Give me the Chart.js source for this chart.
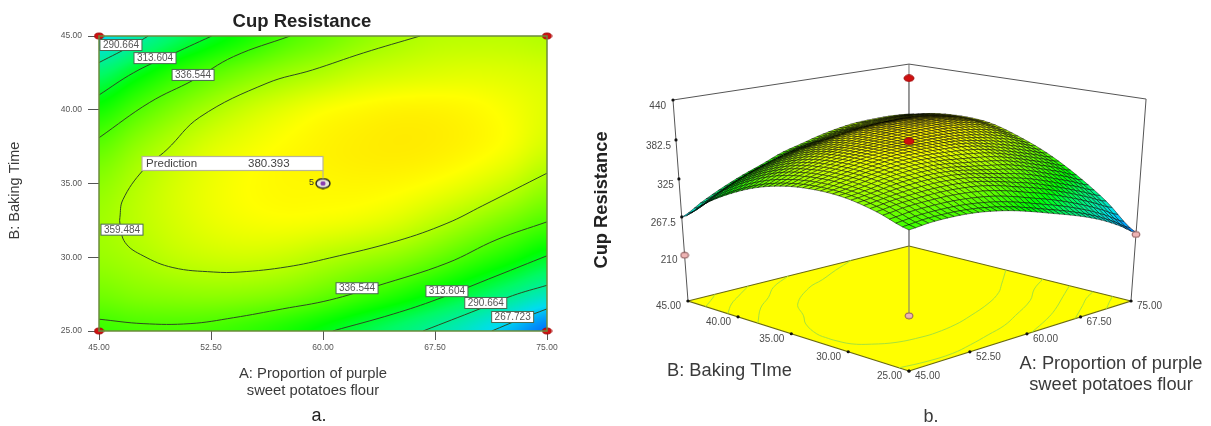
<!DOCTYPE html>
<html>
<head>
<meta charset="utf-8">
<title>Cup Resistance</title>
<script src="https://cdn.jsdelivr.net/npm/chart.js@4"></script>
<style>
  html, body { margin: 0; padding: 0; background: #fff; }
  body { position: relative; width: 1211px; height: 426px; overflow: hidden; }
  canvas { position: absolute; top: 0; }
  #contourChart { left: 0; }
  #surfaceChart { left: 580px; }
</style>
</head>
<body>
<canvas id="surfaceChart" width="631" height="426"></canvas>
<canvas id="contourChart" width="604" height="426"></canvas>
<script>
// values
const axisA = [45, 47.5, 50, 52.5, 55, 57.5, 60, 62.5, 65, 67.5, 70, 72.5, 75];
const axisB = [45, 42.5, 40, 37.5, 35, 32.5, 30, 27.5, 25];
const zTable = [
  [267, 284, 299, 312, 323, 335, 343, 351, 357, 361, 362, 362, 360],
  [298, 313, 327, 338, 347, 354, 359.5, 365, 368, 370, 371, 370, 368],
  [322, 336, 348, 358, 366, 372, 377, 380, 382, 382, 380, 376, 371],
  [340, 352, 362, 370, 375, 379, 382, 384, 385, 384, 381, 376, 368],
  [351, 360, 368, 374, 378, 380, 380.4, 381, 380, 377, 372, 365, 355],
  [355.5, 362, 368, 373, 376, 377, 376, 374, 370, 363, 355, 346, 337],
  [354, 358, 363, 366, 367, 365, 360.5, 356, 351, 343, 333, 323, 312],
  [345, 349, 351, 352, 351, 348, 342, 334, 326, 316, 305, 293, 281],
  [331, 334, 334.5, 333, 329, 323, 315, 306, 297, 287, 275, 260, 243]
];

const contour359 = [[66.5,45],[62.7,43.85],[59.3,42.7],[56.25,41.8],[51.75,39.5],[49.55,37.3],[47.95,35.9],[46.6,33.9],[46.4,32.7],[46.4,32.3],[46.75,31],[47.95,30.1],[49.95,29.3],[52.65,29],[54.45,29],[57.6,29.35],[60.45,29.95],[64.95,31.1],[68.3,32.3],[70.7,33.5],[75,35.7]];
const contour336Top = [[57.8,45],[54,43.6],[51.3,42],[48.4,40.5],[45,38.1]];
const contour336Low = [[45,25.8],[47.95,25.5],[51.1,25.5],[54,25.9],[57.3,26.5],[60.45,27.1],[63.6,28.05],[68.3,29.6],[71.65,31.2],[75,32.4]];
const contour313Top = [[52.55,45],[49.55,43.6],[47.3,42.5],[45,41]];
const contour313Low = [[60.65,25],[64.7,26.15],[67.65,27.15],[71.65,28.75],[75,30.1]];
const contour290Top = [[48.3,45],[47.3,44.4],[45,43.2]];
const contour290Low = [[66.7,25],[70.5,26.5],[72.7,27.4],[75,28.1]];
const contour267 = [[71.3,25],[73.2,25.8],[75,26.5]];
const contours = [contour359, contour336Top, contour336Low, contour313Top, contour313Low, contour290Top, contour290Low, contour267];

const contourLabels = ['290.664', '313.604', '336.544', '359.484', '336.544', '313.604', '290.664', '267.723'];
const contourLabelA = [46.47, 48.75, 51.3, 46.54, 62.28, 68.3, 70.9, 72.7];
const contourLabelB = [44.39, 43.5, 42.36, 31.87, 27.9, 27.7, 26.9, 25.95];

const cornerA = [45, 75, 45, 75];
const cornerB = [45, 45, 25, 25];
const predictionA = 60, predictionB = 35;
const predictionValue = '380.393';

const zTicks = [440, 382.5, 325, 267.5, 210];
const aTicks = [45, 52.5, 60, 67.5, 75];
const bTicks = [45, 40, 35, 30, 25];
const zFloor = 135;

// red points above the surface, pink ones below it
const redA = [60, 60], redB = [35, 35], redZ = [470, 380];
const pinkA = [45, 75, 60], pinkB = [45, 25, 35], pinkZ = [208, 240, 111];

const FONT = '"Liberation Sans", Arial, sans-serif';
const TXT = '#3a3a3a';

// colour ramp of the response, value -> rgb
const rampZ = [240, 268, 300, 318, 378, 470];
const rampC = [[0, 100, 255], [0, 220, 240], [0, 250, 100], [0, 255, 0], [255, 255, 0], [255, 0, 0]];
function rampColor(z) {
  if (z <= rampZ[0]) return rampC[0];
  for (let i = 1; i < rampZ.length; i++) {
    if (z <= rampZ[i]) {
      const t = (z - rampZ[i - 1]) / (rampZ[i] - rampZ[i - 1]);
      return [0, 1, 2].map(k => rampC[i - 1][k] + (rampC[i][k] - rampC[i - 1][k]) * t);
    }
  }
  return rampC[rampC.length - 1];
}

// smooth reading of the table, only used to paint it finer than its cells
function cr(p0, p1, p2, p3, t) {
  return 0.5 * (2 * p1 + (p2 - p0) * t + (2 * p0 - 5 * p1 + 4 * p2 - p3) * t * t + (3 * p1 - p0 - 3 * p2 + p3) * t * t * t);
}
function zAt(a, b) {
  const fx = (a - 45) / 2.5, fy = (45 - b) / 2.5;
  const ix = Math.min(Math.floor(fx), axisA.length - 2), iy = Math.min(Math.floor(fy), axisB.length - 2);
  const row = r => {
    const R = zTable[Math.max(0, Math.min(axisB.length - 1, r))];
    const g = c => R[Math.max(0, Math.min(axisA.length - 1, c))];
    return cr(g(ix - 1), g(ix), g(ix + 1), g(ix + 2), fx - ix);
  };
  return cr(row(iy - 1), row(iy), row(iy + 1), row(iy + 2), fy - iy);
}

function ellipseMarker(w, h, fill, stroke) {
  const c = document.createElement('canvas');
  c.width = w + 2; c.height = h + 2;
  const g = c.getContext('2d');
  g.beginPath();
  g.ellipse(c.width / 2, c.height / 2, w / 2, h / 2, 0, 0, Math.PI * 2);
  g.fillStyle = fill; g.fill();
  g.strokeStyle = stroke; g.lineWidth = 1; g.stroke();
  return c;
}
function targetMarker() {
  const c = document.createElement('canvas');
  c.width = 16; c.height = 12;
  const g = c.getContext('2d');
  g.beginPath(); g.ellipse(8, 6, 7, 4.7, 0, 0, Math.PI * 2);
  g.fillStyle = '#e8e8d8'; g.fill();
  g.strokeStyle = '#222'; g.lineWidth = 1.4; g.stroke();
  g.beginPath(); g.ellipse(8, 6, 2.6, 2.2, 0, 0, Math.PI * 2);
  g.fillStyle = '#8a3fb0'; g.fill();
  return c;
}
function putText(g, str, x, y, font, align, color) {
  g.font = font;
  g.textAlign = align || 'center';
  g.textBaseline = 'middle';
  g.fillStyle = color || TXT;
  g.fillText(str, x, y);
}

// ---------- a. contour plot ----------
const heatPlugin = {
  id: 'heat',
  beforeDatasetsDraw(chart) {
    const { ctx, chartArea: ca, scales } = chart;
    const w = Math.round(ca.right - ca.left), h = Math.round(ca.bottom - ca.top);
    const off = document.createElement('canvas');
    off.width = w; off.height = h;
    const og = off.getContext('2d');
    const img = og.createImageData(w, h);
    for (let y = 0; y < h; y++) {
      const b = scales.y.getValueForPixel(ca.top + y + 0.5);
      for (let x = 0; x < w; x++) {
        const a = scales.x.getValueForPixel(ca.left + x + 0.5);
        const c = rampColor(zAt(a, b));
        const p = (y * w + x) * 4;
        img.data[p] = c[0]; img.data[p + 1] = c[1]; img.data[p + 2] = c[2]; img.data[p + 3] = 255;
      }
    }
    og.putImageData(img, 0, 0);
    ctx.drawImage(off, ca.left, ca.top);
  },
  afterDatasetsDraw(chart) {
    const { ctx, chartArea: ca, scales } = chart;
    ctx.save();
    // plot frame
    ctx.strokeStyle = '#6b8a3c';
    ctx.lineWidth = 1.5;
    ctx.strokeRect(ca.left, ca.top, ca.right - ca.left, ca.bottom - ca.top);
    // contour labels
    contourLabels.forEach((txt, i) => {
      const x = scales.x.getPixelForValue(contourLabelA[i]);
      const y = scales.y.getPixelForValue(contourLabelB[i]);
      ctx.fillStyle = '#fff';
      ctx.fillRect(x - 21, y - 5.5, 42, 11);
      ctx.strokeStyle = '#4a6a50';
      ctx.lineWidth = 1;
      ctx.strokeRect(x - 21, y - 5.5, 42, 11);
      putText(ctx, txt, x, y + 0.5, '10px ' + FONT, 'center', '#555');
    });
    // prediction flag
    const px = scales.x.getPixelForValue(predictionA);
    const py = scales.y.getPixelForValue(predictionB);
    ctx.strokeStyle = '#b9b49a';
    ctx.lineWidth = 1.2;
    ctx.beginPath(); ctx.moveTo(px, py - 13); ctx.lineTo(px, py - 5); ctx.stroke();
    ctx.fillStyle = '#fff';
    ctx.fillRect(px - 181, py - 27, 181, 14);
    ctx.strokeRect(px - 181, py - 27, 181, 14);
    putText(ctx, 'Prediction', px - 177, py - 19.5, '11.5px ' + FONT, 'left', '#444');
    putText(ctx, predictionValue, px - 75, py - 19.5, '11.5px ' + FONT, 'left', '#444');
    putText(ctx, '5', px - 9, py - 0.5, '9px ' + FONT, 'right', '#333');
    // titles sit off the plot centre in the picture, so they are placed here
    putText(ctx, 'Cup Resistance', 302, 22, 'bold 18.5px ' + FONT, 'center', '#222');
    putText(ctx, 'A: Proportion of purple', 313, 374, '14.8px ' + FONT, 'center', TXT);
    putText(ctx, 'sweet potatoes flour', 313, 391, '14.8px ' + FONT, 'center', TXT);
    putText(ctx, 'a.', 319, 416, '18px ' + FONT, 'center', '#222');
    ctx.save();
    ctx.translate(15, 190.5);
    ctx.rotate(-Math.PI / 2);
    putText(ctx, 'B: Baking Time', 0, 0, '14.5px ' + FONT, 'center', TXT);
    ctx.restore();
    ctx.restore();
  }
};

const contourSets = [];
contourSets.push({
  data: [{ x: predictionA, y: predictionB }],
  pointStyle: targetMarker(), pointRadius: 7, clip: false
});
contourSets.push({
  data: cornerA.map((a, i) => ({ x: a, y: cornerB[i] })),
  pointStyle: ellipseMarker(9, 6, '#d01010', '#a00808'), pointRadius: 5, clip: false
});
contours.forEach(line => {
  contourSets.push({
    data: line.map(p => ({ x: p[0], y: p[1] })),
    showLine: true, borderColor: '#2e4a22', borderWidth: 1, pointRadius: 0, tension: 0.4
  });
});

new Chart(document.getElementById('contourChart').getContext('2d'), {
  type: 'scatter',
  data: { datasets: contourSets },
  options: {
    responsive: false,
    animation: false,
    layout: { autoPadding: false, padding: { left: 0, right: 57, top: 36, bottom: 0 } },
    plugins: {
      legend: { display: false },
      tooltip: { enabled: false },
      title: { display: false }
    },
    scales: {
      x: {
        type: 'linear', min: 45, max: 75,
        afterFit: s => { s.height = 95; },
        grid: { drawOnChartArea: false, color: '#555', tickLength: 9 },
        border: { display: false },
        ticks: {
          stepSize: 7.5, maxRotation: 0, padding: 3, color: '#555',
          font: { family: FONT, size: 8.5 },
          callback: v => v.toFixed(2)
        }
      },
      y: {
        type: 'linear', min: 25, max: 45,
        afterFit: s => { s.width = 99; },
        grid: { drawOnChartArea: false, color: '#555', tickLength: 11 },
        border: { display: false },
        ticks: {
          stepSize: 5, padding: 6, color: '#555',
          font: { family: FONT, size: 8.5 },
          callback: v => v.toFixed(2)
        }
      }
    }
  },
  plugins: [heatPlugin]
});

// ---------- b. response surface ----------
// view: where the floor corners and the vertical vanishing point land in the page
const view = { x00: 909, y00: 371, x10: 1131, y10: 301, x11: 909, y11: 246, x01: 688, y01: 301, vpx: 909.5, vpy: 3270, topY: 100 };
const H = (() => {
  const v = view;
  const dx1 = v.x10 - v.x11, dx2 = v.x01 - v.x11, sx = v.x00 - v.x10 + v.x11 - v.x01;
  const dy1 = v.y10 - v.y11, dy2 = v.y01 - v.y11, sy = v.y00 - v.y10 + v.y11 - v.y01;
  const den = dx1 * dy2 - dx2 * dy1;
  const g = (sx * dy2 - dx2 * sy) / den, h = (dx1 * sy - sx * dy1) / den;
  const m = {
    a: v.x10 - v.x00 + g * v.x10, b: v.x01 - v.x00 + h * v.x01, c: v.x00,
    d: v.y10 - v.y00 + g * v.y10, e: v.y01 - v.y00 + h * v.y01, f: v.y00, g, h
  };
  const wL = h + 1;
  m.s = -(v.y01 - v.topY) * wL / (v.vpy - v.topY);
  return m;
})();
function project(a, b, z) {
  const u = (a - 45) / 30, v = (b - 25) / 20;
  const t = (z - zFloor) / (440 - zFloor) * H.s;
  const w = H.g * u + H.h * v + 1 + t;
  return {
    x: (H.a * u + H.b * v + H.c + t * view.vpx) / w,
    y: (H.d * u + H.e * v + H.f + t * view.vpy) / w
  };
}

const MESH = 40;
const surfacePlugin = {
  id: 'surface',
  beforeDatasetDraw(chart, args) {
    if (chart.data.datasets[args.index].label !== 'surface') return;
    const { ctx, scales } = chart;
    const pos = (a, b, z) => {
      const p = project(a, b, z);
      return [scales.x.getPixelForValue(p.x), scales.y.getPixelForValue(p.y)];
    };
    ctx.save();
    ctx.lineWidth = 0.6;
    ctx.strokeStyle = 'rgba(0,0,0,0.8)';
    // back corner (75, 45) first, front corner (45, 25) last
    for (let i = MESH - 1; i >= 0; i--) {
      for (let j = MESH - 1; j >= 0; j--) {
        const a0 = 45 + 30 * i / MESH, a1 = 45 + 30 * (i + 1) / MESH;
        const b0 = 25 + 20 * j / MESH, b1 = 25 + 20 * (j + 1) / MESH;
        const z00 = zAt(a0, b0), z10 = zAt(a1, b0), z11 = zAt(a1, b1), z01 = zAt(a0, b1);
        const c = rampColor((z00 + z10 + z11 + z01) / 4);
        const p = [pos(a0, b0, z00), pos(a1, b0, z10), pos(a1, b1, z11), pos(a0, b1, z01)];
        ctx.beginPath();
        ctx.moveTo(p[0][0], p[0][1]);
        for (let k = 1; k < 4; k++) ctx.lineTo(p[k][0], p[k][1]);
        ctx.closePath();
        ctx.fillStyle = 'rgb(' + c.map(Math.round).join(',') + ')';
        ctx.fill();
        ctx.stroke();
      }
    }
    ctx.restore();
  },
  afterDatasetsDraw(chart) {
    const ctx = chart.ctx;
    const sx = chart.scales.x, sy = chart.scales.y;
    const tick = (s, x, y, align) => putText(ctx, s, sx.getPixelForValue(x), sy.getPixelForValue(y), '10px ' + FONT, align, '#4a4a4a');
    ctx.save();
    zTicks.forEach((z, i) => {
      const p = project(45, 45, z);
      tick(String(z), p.x - [7, 5, 5, 6, 7][i], p.y + 6, 'right');
    });
    bTicks.forEach(b => {
      const p = project(45, b, zFloor);
      tick(b.toFixed(2), p.x - 7, p.y + 5.5, 'right');
    });
    aTicks.forEach(a => {
      const p = project(a, 25, zFloor);
      tick(a.toFixed(2), p.x + 6, p.y + 5.5, 'left');
    });
    const label = (s, x, y, font) => putText(ctx, s, sx.getPixelForValue(x), sy.getPixelForValue(y), font, 'center', TXT);
    label('B: Baking TIme', 729.5, 371, '18.3px ' + FONT);
    label('A: Proportion of purple', 1111, 364, '18.3px ' + FONT);
    label('sweet potatoes flour', 1111, 385, '18.3px ' + FONT);
    label('b.', 931, 417, '18px ' + FONT);
    ctx.save();
    ctx.translate(sx.getPixelForValue(602), sy.getPixelForValue(200));
    ctx.rotate(-Math.PI / 2);
    putText(ctx, 'Cup Resistance', 0, 0, 'bold 18.3px ' + FONT, 'center', '#222');
    ctx.restore();
    ctx.restore();
  }
};

const surfaceSets = [];
// first in the list ends up on top
surfaceSets.push({
  data: redA.map((a, i) => project(a, redB[i], redZ[i])),
  pointStyle: ellipseMarker(10, 6.5, '#d01010', '#a00808'), pointRadius: 5
});
surfaceSets.push({
  data: pinkA.slice(0, 2).map((a, i) => project(a, pinkB[i], pinkZ[i])),
  pointStyle: ellipseMarker(8, 6, '#eeb4b4', '#8a5a5a'), pointRadius: 4
});
surfaceSets.push({
  label: 'surface',
  data: axisB.flatMap((b, r) => axisA.map((a, c) => project(a, b, zTable[r][c]))),
  pointRadius: 0
});
surfaceSets.push({
  data: pinkA.slice(2).map((a, i) => project(a, pinkB[i + 2], pinkZ[i + 2])),
  pointStyle: ellipseMarker(8, 6, '#eeb4b4', '#8a5a5a'), pointRadius: 4
});
surfaceSets.push({
  data: [project(predictionA, predictionB, redZ[0]), project(predictionA, predictionB, pinkZ[2])],
  showLine: true, borderColor: '#777', borderWidth: 1, pointRadius: 0
});
// tick dots
surfaceSets.push({
  data: zTicks.map(z => project(45, 45, z))
    .concat(bTicks.map(b => project(45, b, zFloor)))
    .concat(aTicks.map(a => project(a, 25, zFloor))),
  pointRadius: 1.6, pointBackgroundColor: '#111', pointBorderWidth: 0
});
// floor contours
contours.forEach(line => {
  surfaceSets.push({
    data: line.map(p => project(p[0], p[1], zFloor)),
    showLine: true, borderColor: '#a6e23c', borderWidth: 1, pointRadius: 0, tension: 0.4
  });
});
surfaceSets.push({
  data: [project(45, 25, zFloor), project(75, 25, zFloor), project(75, 45, zFloor), project(45, 45, zFloor), project(45, 25, zFloor)],
  showLine: true, fill: 'shape', backgroundColor: '#ffff00', borderColor: '#6a6a10', borderWidth: 1.2, pointRadius: 0
});
// box behind the surface
surfaceSets.push({
  data: [project(45, 45, zFloor), project(45, 45, 440), project(75, 45, 440), project(75, 25, 440), project(75, 25, zFloor)],
  showLine: true, borderColor: '#555', borderWidth: 1, pointRadius: 0
});
surfaceSets.push({
  data: [project(75, 45, 440), project(75, 45, zFloor)],
  showLine: true, borderColor: '#777', borderWidth: 1, pointRadius: 0
});

new Chart(document.getElementById('surfaceChart').getContext('2d'), {
  type: 'scatter',
  data: { datasets: surfaceSets },
  options: {
    responsive: false,
    animation: false,
    layout: { autoPadding: false, padding: 0 },
    plugins: { legend: { display: false }, tooltip: { enabled: false }, title: { display: false } },
    scales: {
      x: { type: 'linear', min: 580, max: 1211, display: false },
      y: { type: 'linear', min: 0, max: 426, reverse: true, display: false }
    }
  },
  plugins: [surfacePlugin]
});
</script>
</body>
</html>
